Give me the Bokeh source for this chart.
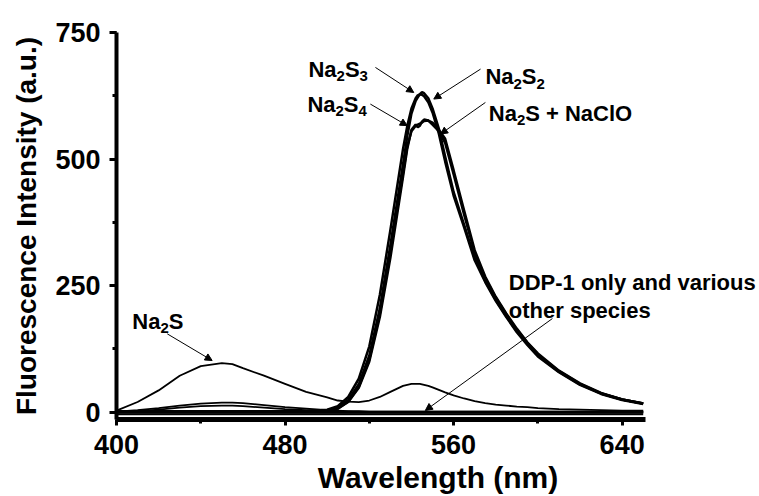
from bokeh.plotting import figure
from bokeh.models import Range1d, SingleIntervalTicker, Label, Arrow, NormalHead
from bokeh.embed import file_html
from bokeh.resources import INLINE

# ---------------- data ----------------
wavelength = [400, 410, 420, 430, 440, 450, 455, 460, 470, 480, 490, 500, 505, 510,
              515, 520, 525, 530, 533, 536, 538, 540, 542, 543, 544, 545, 546, 548,
              550, 553, 556, 560, 565, 570, 575, 580, 585, 590, 595, 600, 610, 620,
              630, 640, 650]

na2s2 = [2, 2, 2, 2, 2, 2, 2, 2, 2, 2, 2, 4, 9, 24,
         55, 112, 205, 330, 410, 490, 545, 590, 615, 622, 628, 632, 630, 620,
         600, 560, 505, 435, 370, 305, 260, 222, 190, 160, 135, 112, 80, 55,
         37, 25, 17]

na2s3 = [2, 2, 2, 2, 2, 2, 2, 2, 2, 2, 2, 5, 12, 30,
         66, 130, 232, 360, 440, 520, 565, 600, 620, 626, 628, 627, 624, 612,
         592, 550, 495, 428, 365, 300, 257, 220, 188, 158, 133, 110, 79, 54,
         36, 24, 16]

na2s4 = [2, 2, 2, 2, 2, 2, 2, 2, 2, 2, 2, 3, 7, 20,
         48, 100, 188, 305, 385, 465, 520, 558, 568, 563, 566, 574, 578, 576,
         568, 555, 532, 470, 390, 315, 265, 226, 193, 163, 137, 114, 81, 56,
         37, 25, 17]

na2s_naclo = [2, 2, 2, 2, 2, 2, 2, 2, 2, 2, 2, 3, 7, 21,
              50, 104, 195, 315, 395, 472, 525, 555, 566, 568, 570, 572, 575, 576,
              572, 558, 540, 478, 398, 320, 268, 228, 195, 165, 138, 116, 82, 57,
              38, 25, 17]

na2s = [3, 20, 43, 72, 91, 97, 95, 87, 72, 56, 40, 29, 23, 21,
        20, 23, 30, 40, 46, 52, 54, 56, 56, 56, 56, 55, 54, 52,
        49, 44, 39, 33, 27, 22, 18, 15, 13, 11, 10, 8, 6, 5,
        4, 3, 3]

other_a = [1, 4, 8, 13, 17, 19, 19, 18, 14, 10, 7, 4, 3, 2,
           2, 1, 1, 1, 1, 1, 1, 1, 1, 1, 1, 1, 1, 1,
           1, 1, 1, 1, 1, 1, 1, 1, 1, 1, 1, 1, 1, 1,
           1, 1, 1]

other_b = [0, 2, 5, 9, 12, 13, 13, 12, 9, 6, 4, 2, 1, 1,
           0, 0, 0, 0, 0, 0, 0, 0, 0, 0, 0, 0, 0, 0,
           0, 0, 0, 0, 0, 0, 0, 0, 0, 0, 0, 0, 0, 0,
           0, 0, 0]

flat_wavelength = [400, 450, 500, 550, 600, 650]
flat_1 = [1, 1, 1, 1, 1, 1]
flat_2 = [-1, -1, -1, -1, -1, -1]
flat_3 = [-4, -4, -4, -4, -4, -4]

# annotation texts: pieces of (text, is_subscript), anchored at data positions
label_parts = [
    [("Na", 0), ("2", 1), ("S", 0), ("3", 1)],
    [("Na", 0), ("2", 1), ("S", 0), ("4", 1)],
    [("Na", 0), ("2", 1), ("S", 0), ("2", 1)],
    [("Na", 0), ("2", 1), ("S + NaClO", 0)],
    [("Na", 0), ("2", 1), ("S", 0)],
    [("DDP-1 only and various", 0)],
    [("other species", 0)],
]
label_x = [491.1, 490.6, 575.1, 576.7, 407.5, 586.2, 586.2]
label_y = [677, 608.6, 662.5, 590, 179.6, 255.4, 200.7]

arrow_x0 = [522.9, 520.5, 572.8, 575.1, 424.1, 606.9]
arrow_y0 = [681, 608.6, 677.7, 611.8, 154.7, 184.9]
arrow_x1 = [541.1, 538.0, 550.6, 553.8, 445.4, 546.6]
arrow_y1 = [631.5, 566, 618.5, 549.4, 102, 3.4]

FONT = "Liberation Sans"
MAIN_PX = 22
SUB_PX = 15
SUB_DROP = 7
# Arial/Liberation Sans Bold advance widths (per 1000 em)
ADV = {"N": 722, "a": 556, "S": 667, "C": 722, "l": 278, "O": 778, " ": 278, "+": 584,
       "0": 556, "1": 556, "2": 556, "3": 556, "4": 556}


def text_width(s, px):
    return sum(ADV.get(ch, 556) for ch in s) * px / 1000.0


p = figure(width=759, height=496, x_range=Range1d(400, 705.2), y_range=Range1d(-14.5, 750),
           output_backend="svg", toolbar_location=None,
           min_border_left=116, min_border_right=0, min_border_top=32, min_border_bottom=0)
p.outline_line_color = None
p.grid.visible = False
p.background_fill_color = "white"
p.border_fill_color = "white"

# curves
for ys in [na2s2, na2s3, na2s4, na2s_naclo]:
    p.line(wavelength, ys, line_color="black", line_width=2.5)
p.line(wavelength, na2s, line_color="black", line_width=1.8)
p.line(wavelength, other_a, line_color="black", line_width=1.8)
p.line(wavelength, other_b, line_color="black", line_width=1.8)
for ys in [flat_1, flat_2, flat_3]:
    p.line(flat_wavelength, ys, line_color="black", line_width=2)

# axes
xa = p.xaxis[0]
ya = p.yaxis[0]
xa.bounds = (400, 651)
xa.ticker = SingleIntervalTicker(interval=80, num_minor_ticks=2)
ya.ticker = SingleIntervalTicker(interval=250, num_minor_ticks=2)
for ax in (xa, ya):
    ax.axis_line_color = "black"
    ax.major_tick_line_color = "black"
    ax.minor_tick_line_color = "black"
    ax.major_tick_in = 0
    ax.minor_tick_in = 0
    ax.major_tick_line_width = 3
    ax.minor_tick_line_width = 3
    ax.major_label_text_font = FONT
    ax.major_label_text_font_style = "bold"
    ax.major_label_text_color = "black"
    ax.axis_label_text_font = FONT
    ax.axis_label_text_font_style = "bold"
    ax.axis_label_text_color = "black"

xa.axis_line_width = 5
ya.axis_line_width = 4
xa.major_tick_out = 6
xa.minor_tick_out = 4
ya.major_tick_out = 7
ya.minor_tick_out = 4
xa.major_label_text_font_size = "27px"
ya.major_label_text_font_size = "27px"
xa.major_label_standoff = 9
ya.major_label_standoff = 9
xa.axis_label = "Wavelength (nm)"
ya.axis_label = "Fluorescence Intensity (a.u.)"
xa.axis_label_text_font_size = "30px"
ya.axis_label_text_font_size = "28px"
xa.axis_label_standoff = 4
ya.axis_label_standoff = 10

# text labels built from pieces (subscripts smaller and lowered)
for parts, x, y in zip(label_parts, label_x, label_y):
    off = 0.0
    for txt, sub in parts:
        px = SUB_PX if sub else MAIN_PX
        p.add_layout(Label(x=x, y=y, x_offset=off, y_offset=-SUB_DROP if sub else 0,
                           text=txt, text_font=FONT, text_font_style="bold",
                           text_font_size=f"{px}px", text_color="black",
                           text_baseline="alphabetic", text_align="left"))
        off += text_width(txt, px)

# arrows
for x0, y0, x1, y1 in zip(arrow_x0, arrow_y0, arrow_x1, arrow_y1):
    p.add_layout(Arrow(end=NormalHead(size=7, fill_color="black", line_color="black", line_width=1),
                       x_start=x0, y_start=y0, x_end=x1, y_end=y1,
                       line_color="black", line_width=1))

open("out.html", "w").write(file_html(p, INLINE))
